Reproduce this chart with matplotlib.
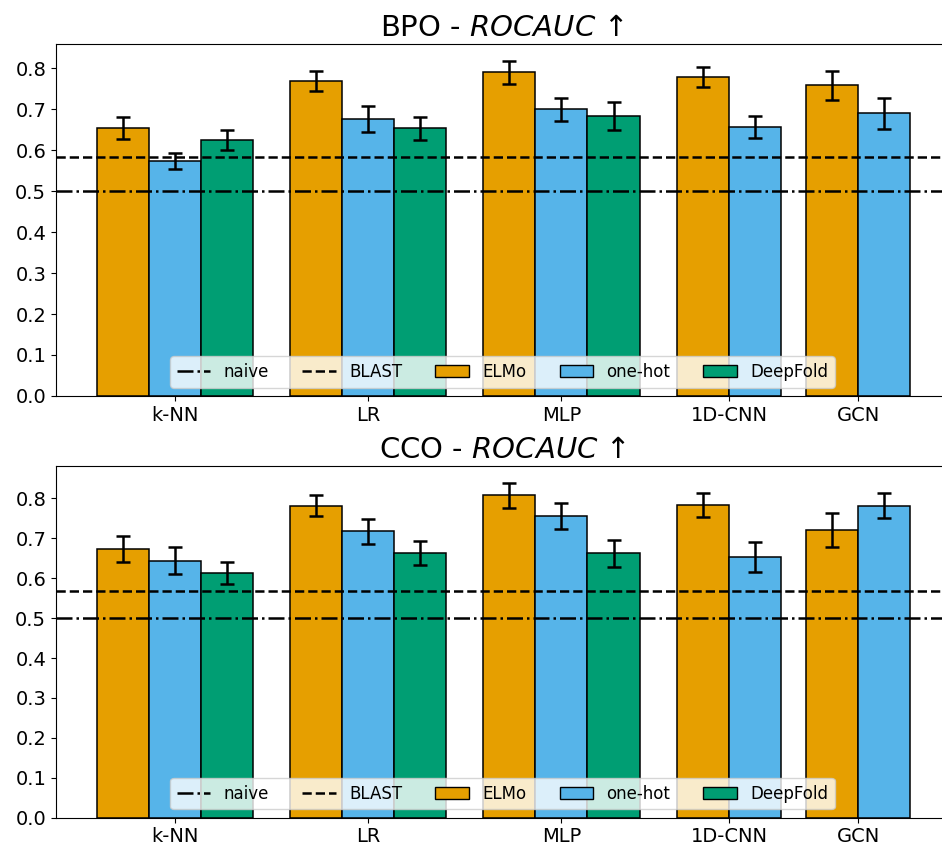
import numpy as np
import matplotlib
matplotlib.use("Agg")
import matplotlib.pyplot as plt
from matplotlib.lines import Line2D
from matplotlib.patches import Patch

# model groups and the feature sets evaluated in each
models = ["k-NN", "LR", "MLP", "1D-CNN", "GCN"]
features = ["ELMo", "one-hot", "DeepFold"]
colors = {"ELMo": "#E69F00", "one-hot": "#56B4E9", "DeepFold": "#009E73"}

# BPO - ROCAUC (mean, std); None = not evaluated
bpo_elmo = [0.654, 0.768, 0.790, 0.778, 0.758]
bpo_elmo_err = [0.026, 0.025, 0.028, 0.025, 0.036]
bpo_onehot = [0.574, 0.676, 0.699, 0.657, 0.690]
bpo_onehot_err = [0.020, 0.031, 0.027, 0.027, 0.038]
bpo_deepfold = [0.624, 0.653, 0.684, None, None]
bpo_deepfold_err = [0.025, 0.028, 0.034, None, None]
bpo_blast = 0.584

# CCO - ROCAUC
cco_elmo = [0.673, 0.782, 0.808, 0.783, 0.720]
cco_elmo_err = [0.032, 0.027, 0.031, 0.031, 0.043]
cco_onehot = [0.644, 0.717, 0.755, 0.653, 0.782]
cco_onehot_err = [0.033, 0.032, 0.033, 0.038, 0.032]
cco_deepfold = [0.613, 0.662, 0.662, None, None]
cco_deepfold_err = [0.027, 0.030, 0.033, None, None]
cco_blast = 0.569

naive = 0.5

# spacing between groups (in bar widths)
group_gaps = [0.72, 0.72, 0.72, 0.49]


def draw_panel(ax, title, vals, errs, blast):
    x = 0.0
    ticks = []
    for g, name in enumerate(models):
        centers = []
        for f in features:
            v = vals[f][g]
            if v is None:
                continue
            ax.bar(x, v, width=1.0, color=colors[f], edgecolor="black", linewidth=1.1,
                   yerr=errs[f][g], capsize=5, error_kw=dict(elinewidth=1.8, capthick=1.8))
            centers.append(x)
            x += 1
        ticks.append(np.mean(centers))
        if g < len(group_gaps):
            x += group_gaps[g]

    ax.axhline(naive, color="black", linestyle="-.", linewidth=1.8)
    ax.axhline(blast, color="black", linestyle="--", linewidth=1.8)

    ax.set_xticks(ticks)
    ax.set_xticklabels(models)
    ax.set_xlim(-1.28, 15.89)
    ax.tick_params(labelsize=14)
    ax.set_title(title, fontsize=21)

    handles = [Line2D([], [], color="black", linestyle="-.", linewidth=1.8, label="naive"),
               Line2D([], [], color="black", linestyle="--", linewidth=1.8, label="BLAST")]
    for f in features:
        handles.append(Patch(facecolor=colors[f], edgecolor="black", label=f))
    ax.legend(handles=handles, loc="lower center", ncol=5, fontsize=12)


fig = plt.figure(figsize=(9.42, 8.47), dpi=100)
ax1 = fig.add_axes([0.0594, 0.5325, 0.948, 0.4156])
ax2 = fig.add_axes([0.0594, 0.0346, 0.948, 0.4152])

draw_panel(ax1, "BPO - $ROCAUC$ ↑",
           {"ELMo": bpo_elmo, "one-hot": bpo_onehot, "DeepFold": bpo_deepfold},
           {"ELMo": bpo_elmo_err, "one-hot": bpo_onehot_err, "DeepFold": bpo_deepfold_err},
           bpo_blast)
draw_panel(ax2, "CCO - $ROCAUC$ ↑",
           {"ELMo": cco_elmo, "one-hot": cco_onehot, "DeepFold": cco_deepfold},
           {"ELMo": cco_elmo_err, "one-hot": cco_onehot_err, "DeepFold": cco_deepfold_err},
           cco_blast)

plt.savefig("out.png", dpi=100)
